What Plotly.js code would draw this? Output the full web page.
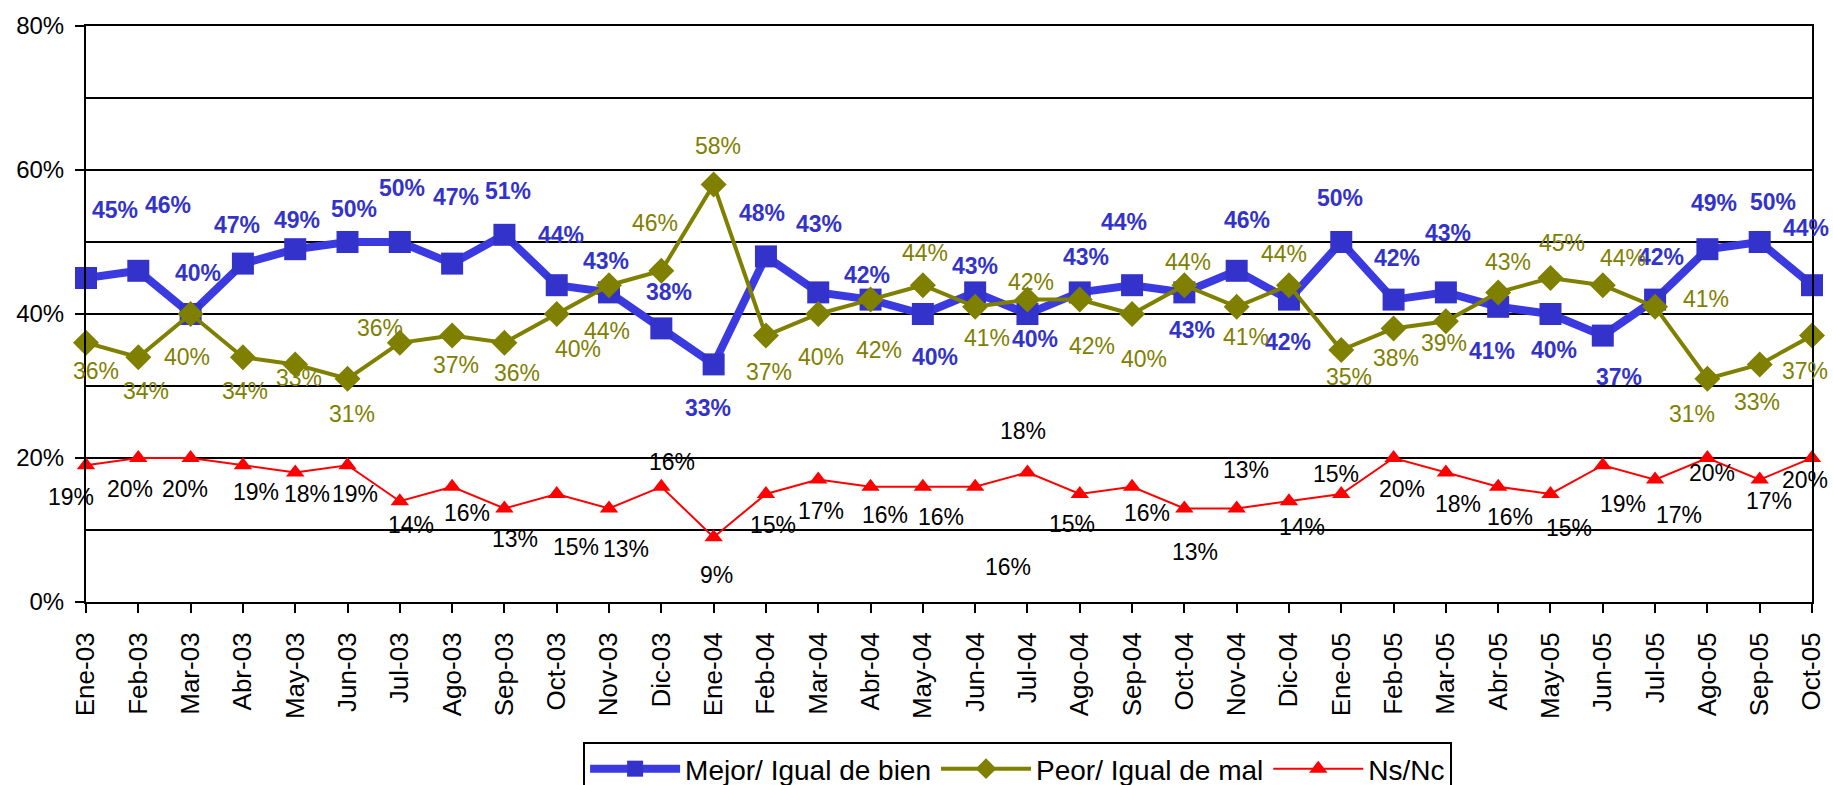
<!DOCTYPE html>
<html>
<head>
<meta charset="utf-8">
<script src="https://cdn.plot.ly/plotly-3.0.1.min.js"></script>
<style>
  html, body { margin: 0; padding: 0; background: #ffffff; }
  #chart { width: 1833px; height: 785px; }
</style>
</head>
<body>
<div id="chart"></div>
<script>
// ---- Data ----
const categories = ["Ene-03","Feb-03","Mar-03","Abr-03","May-03","Jun-03","Jul-03","Ago-03","Sep-03","Oct-03","Nov-03","Dic-03",
  "Ene-04","Feb-04","Mar-04","Abr-04","May-04","Jun-04","Jul-04","Ago-04","Sep-04","Oct-04","Nov-04","Dic-04",
  "Ene-05","Feb-05","Mar-05","Abr-05","May-05","Jun-05","Jul-05","Ago-05","Sep-05","Oct-05"];
const mejor = [45,46,40,47,49,50,50,47,51,44,43,38,33,48,43,42,40,43,40,43,44,43,46,42,50,42,43,41,40,37,42,49,50,44];
const peor  = [36,34,40,34,33,31,36,37,36,40,44,46,58,37,40,42,44,41,42,42,40,44,41,44,35,38,39,43,45,44,41,31,33,37];
const nsnc  = [19,20,20,19,18,19,14,16,13,15,13,16,9,15,17,16,16,16,18,15,16,13,13,14,15,20,18,16,15,19,17,20,17,20];
const seriesNames = ["Mejor/ Igual de bien", "Peor/ Igual de mal", "Ns/Nc"];
const yTickVals = [0,20,40,60,80];

// ---- Label placement (pixel offsets from each point: right, down) ----
const mejorDx = [29,30,7,-6,2,6,2,4,4,4,-3,8,-6,-4,1,-4,12,0,8,6,-8,8,10,-1,-1,3,2,-6,4,16,6,7,13,-6];
const mejorDy = [-68,-66,-41,-39,-29,-33,-54,-67,-44,-50,-31,-36,44,-43,-68,-25,43,-26,25,-35,-63,38,-51,42,-44,-42,-59,44,36,41,-43,-46,-40,-57];
const peorDx  = [10,8,-4,2,4,4,-20,4,13,21,-2,-6,4,3,3,8,2,12,4,12,12,4,9,-5,8,2,-2,10,12,20,51,-15,-3,-7];
const peorDy  = [28,34,43,34,14,35,-15,29,30,35,46,-48,-38,36,43,50,-32,31,-18,46,45,-23,30,-31,27,30,22,-30,-35,-27,-8,35,38,35];
const nsDx    = [-15,-8,-6,13,12,7,11,15,11,19,17,11,3,7,3,14,18,33,-4,-8,15,11,9,13,-5,8,12,12,19,20,24,5,9,-7];
const nsDy    = [32,31,31,27,22,29,24,26,31,53,41,-25,38,31,31,28,30,80,-41,30,26,44,-38,26,-20,31,32,30,34,39,35,15,21,22];

const FONT = "'Liberation Sans', Arial, Helvetica, sans-serif";
const BLUE = "#3333CC", BLUE_LINE = "#3a3ae0", OLIVE = "#808000", RED = "#FF0000";

const traces = [
  {
    x: categories, y: mejor, name: seriesNames[0], type: "scatter", mode: "lines+markers",
    line: { color: BLUE_LINE, width: 8 },
    marker: { symbol: "square", size: 22, color: BLUE, line: { width: 0 } },
    cliponaxis: false, hoverinfo: "skip"
  },
  {
    x: categories, y: peor, name: seriesNames[1], type: "scatter", mode: "lines+markers",
    line: { color: OLIVE, width: 4 },
    marker: { symbol: "diamond", size: 20, color: OLIVE, line: { width: 0 } },
    cliponaxis: false, hoverinfo: "skip"
  },
  {
    x: categories, y: nsnc, name: seriesNames[2], type: "scatter", mode: "lines+markers",
    line: { color: RED, width: 2 },
    marker: { symbol: "triangle-up", size: 16, color: RED, line: { width: 0 } },
    cliponaxis: false, hoverinfo: "skip"
  }
];

function labels(vals, dx, dy, font) {
  return vals.map((v, i) => ({
    x: categories[i], y: v, xref: "x", yref: "y",
    text: v + "%", showarrow: false,
    xshift: dx[i], yshift: -dy[i], font: font
  }));
}

const annotations = []
  .concat(labels(mejor, mejorDx, mejorDy, { family: FONT, size: 23, color: BLUE, weight: "bold" }))
  .concat(labels(peor, peorDx, peorDy, { family: FONT, size: 23, color: OLIVE }))
  .concat(labels(nsnc, nsDx, nsDy, { family: FONT, size: 23, color: "#000000" }));

const layout = {
  width: 1833, height: 785,
  margin: { l: 86, r: 21, t: 26, b: 183, pad: 0, autoexpand: false },
  paper_bgcolor: "#ffffff", plot_bgcolor: "#ffffff",
  font: { family: FONT, color: "#000000" },
  showlegend: true,
  xaxis: {
    type: "category", range: [0, categories.length - 1], automargin: false,
    showline: true, linecolor: "#000000", linewidth: 2, mirror: true,
    showgrid: false, zeroline: false,
    ticks: "outside", ticklen: 9, tickwidth: 2, tickcolor: "#000000",
    tickangle: -90, tickfont: { family: FONT, size: 26, color: "#000000" },
    ticklabelstandoff: 9
  },
  yaxis: {
    range: [0, 80], tickvals: yTickVals, ticktext: yTickVals.map(v => v + "%"), automargin: false,
    showline: true, linecolor: "#000000", linewidth: 2, mirror: true,
    showgrid: true, gridcolor: "#000000", gridwidth: 2, zeroline: false,
    ticks: "outside", ticklen: 9, tickwidth: 2, tickcolor: "#000000",
    tickfont: { family: FONT, size: 24, color: "#000000" },
    ticklabelstandoff: 6,
    minor: { dtick: 10, tick0: 0, showgrid: true, gridcolor: "#000000", gridwidth: 2, ticks: "" }
  },
  legend: {
    orientation: "h", x: 0.288, xanchor: "left", y: -0.243, yanchor: "top",
    font: { family: FONT, size: 28, color: "#000000" },
    bgcolor: "#ffffff", bordercolor: "#000000", borderwidth: 2,
    itemwidth: 90, traceorder: "normal"
  },
  annotations: annotations
};

Plotly.newPlot("chart", traces, layout, { displayModeBar: false, staticPlot: true });
</script>
</body>
</html>
